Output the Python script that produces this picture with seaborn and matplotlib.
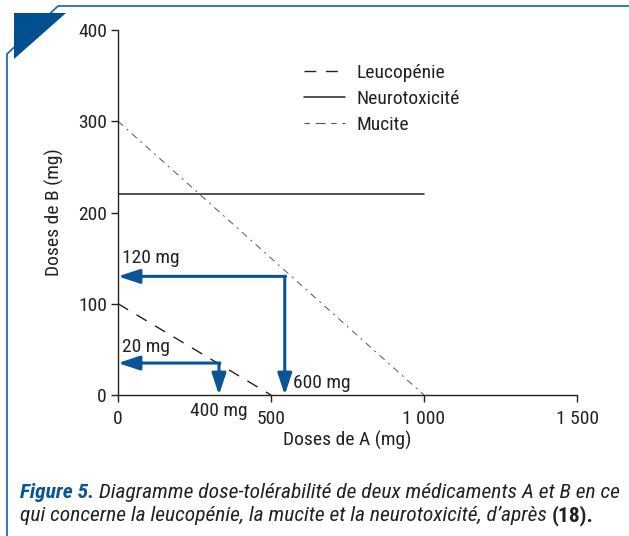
import matplotlib
matplotlib.use("Agg")
import matplotlib.pyplot as plt
from matplotlib.lines import Line2D
from matplotlib.patches import Polygon
import pandas as pd
import seaborn as sns

#_Data -----------------
series_names = ["Leucopénie", "Neurotoxicité", "Mucite"]
leuco_x = [0, 500]
leuco_y = [100, 0]
neuro_x = [0, 1000]
neuro_y = [220, 220]
mucite_x = [0, 1000]
mucite_y = [300, 0]

big_dose = (545, 130)      # point reached by the large arrows
small_dose = (330, 35)     # point reached by the small arrows
arrow_labels = ["120 mg", "600 mg", "20 mg", "400 mg"]

x_ticks = [0, 500, 1000, 1500]
x_tick_labels = ["0", "500", "1 000", "1 500"]
y_ticks = [0, 100, 200, 300, 400]

blue = "#0b5596"
ink = "#222222"
fs = 14

#_Style -----------------
sns.set_style("ticks")
plt.rcParams["font.family"] = ["Roboto Condensed", "DejaVu Sans"]

W, H = 629, 536
fig = plt.figure(figsize=(W / 100, H / 100), dpi=100)
ax = fig.add_axes([118 / W, 1 - 395 / H, (577 - 118) / W, (395 - 30) / H])

df = pd.concat([
    pd.DataFrame({"x": leuco_x, "y": leuco_y, "serie": series_names[0]}),
    pd.DataFrame({"x": neuro_x, "y": neuro_y, "serie": series_names[1]}),
    pd.DataFrame({"x": mucite_x, "y": mucite_y, "serie": series_names[2]}),
])
sns.lineplot(data=df, x="x", y="y", hue="serie", style="serie",
             palette=[ink, ink, "#555555"],
             dashes={series_names[0]: (8.5, 7), series_names[1]: "",
                     series_names[2]: (7, 5, 2, 5)},
             sort=False, estimator=None, ax=ax, legend=False)
for line, lw in zip(ax.lines, [1.0, 1.1, 0.7]):
    line.set_linewidth(lw)

ax.set_xlim(0, 1500)
ax.set_ylim(0, 400)
ax.set_xticks(x_ticks)
ax.set_xticklabels(x_tick_labels)
ax.set_yticks(y_ticks)
ax.tick_params(labelsize=fs, length=5, width=1, color=ink, labelcolor=ink, pad=3)
ax.tick_params(axis="x", pad=6)
sns.despine(ax=ax)
for s in ["left", "bottom"]:
    ax.spines[s].set_linewidth(1)
    ax.spines[s].set_color(ink)
ax.set_xlabel("Doses de A (mg)", fontsize=fs, color=ink, labelpad=2)
ax.set_ylabel("Doses de B (mg)", fontsize=fs, color=ink, labelpad=10)
ax.patch.set_alpha(0)

#_Arrows -----------------
astyle = dict(arrowstyle="-|>,head_length=1.3,head_width=0.43", lw=2.2, color=blue,
              shrinkA=0, shrinkB=0, mutation_scale=10)
for (px, py) in [big_dose, small_dose]:
    ax.annotate("", xy=(0, py), xytext=(px + 3, py), arrowprops=astyle, annotation_clip=False)
    ax.annotate("", xy=(px, 0), xytext=(px, py), arrowprops=astyle, annotation_clip=False)

ax.text(12, big_dose[1] + 10, arrow_labels[0], fontsize=fs, color=ink, va="bottom")
ax.text(big_dose[0] + 26, 3, arrow_labels[1], fontsize=fs, color=ink, va="bottom")
ax.text(12, small_dose[1] + 8, arrow_labels[2], fontsize=fs, color=ink, va="bottom")
ax.text(small_dose[0], -8, arrow_labels[3], fontsize=fs, color=ink, ha="center", va="top")

#_Legend -----------------
handles = [Line2D([], [], color=ink, lw=1.0, dashes=(8.5, 7)),
           Line2D([], [], color=ink, lw=1.1),
           Line2D([], [], color="#555555", lw=0.8, dashes=(5, 5, 9, 5))]
fig.legend(handles, series_names, loc="upper left", bbox_to_anchor=(304 / W, 1 - 64 / H),
           frameon=False, fontsize=fs, handlelength=2.1, handletextpad=0.6,
           labelspacing=0.4, borderpad=0, borderaxespad=0, labelcolor=ink)

#_Frame and corner -----------------
def to_fig(pts):
    return [(x / W, 1 - y / H) for x, y in pts]

fig.add_artist(Line2D(*zip(*to_fig([(7, 536), (7, 54), (58, 6), (629, 6)])),
                      color="#1f6fb4", lw=1.3, transform=fig.transFigure, zorder=2))
fig.add_artist(Polygon(to_fig([(14, 13), (66, 13), (14, 59)]), closed=True,
                       facecolor="#00508f", edgecolor="none", transform=fig.transFigure, zorder=5))

#_Caption -----------------
fig.canvas.draw()
renderer = fig.canvas.get_renderer()

def put_pieces(pieces, x0, y0, size):
    x = x0
    made = []
    for txt, color, weight, style in pieces:
        t = fig.text(x / W, 1 - y0 / H, txt, fontsize=size, color=color,
                     fontweight=weight, fontstyle=style, va="baseline")
        x += t.get_window_extent(renderer=renderer).width
        made.append(t)
    return x - x0, made

line1 = [("Figure 5.", blue, "bold", "italic"),
         (" Diagramme dose-tolérabilité de deux médicaments A et B en ce", ink, "normal", "italic")]
line2 = [("qui concerne la leucopénie, la mucite et la neurotoxicité, d’après ", ink, "normal", "italic"),
         ("(18).", ink, "bold", "normal")]

# size the caption so that its first line spans the same width as in the figure
width, made = put_pieces(line1, 20, 498, 12)
for t in made:
    t.remove()
size = 12 * 597 / width
put_pieces(line1, 20, 498, size)
put_pieces(line2, 20, 521, size)

fig.savefig("out.png", dpi=100)
